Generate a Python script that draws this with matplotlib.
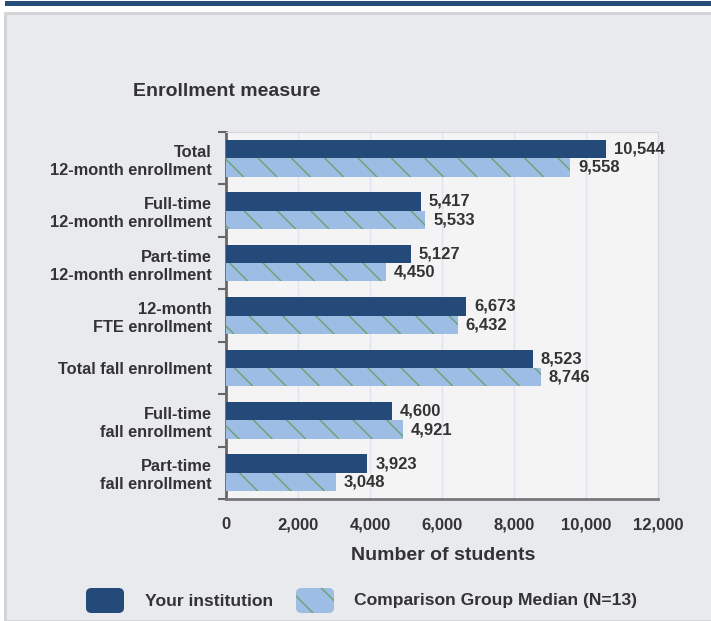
import numpy as np
import matplotlib.pyplot as plt
from matplotlib.patches import Rectangle, FancyBboxPatch

plt.rcParams['font.family'] = ['Liberation Sans', 'DejaVu Sans']
plt.rcParams['hatch.linewidth'] = 1.0

categories = ["Total\n12-month enrollment", "Full-time\n12-month enrollment",
              "Part-time\n12-month enrollment", "12-month\nFTE enrollment",
              "Total fall enrollment", "Full-time\nfall enrollment",
              "Part-time\nfall enrollment"]
your_inst = [10544, 5417, 5127, 6673, 8523, 4600, 3923]
comparison = [9558, 5533, 4450, 6432, 8746, 4921, 3048]
xticks = [0, 2000, 4000, 6000, 8000, 10000, 12000]

dark = '#244a79'
light = '#9dbde4'
hatch_col = '#6aa36c'
txt = '#333333'

W, H = 711, 621
fig = plt.figure(figsize=(W / 100, H / 100), dpi=100, facecolor='white')

# background panel and top band
fig.add_artist(Rectangle((5 / W, 0), 1, 1 - 13 / H, transform=fig.transFigure,
                         facecolor='#e9eaee', edgecolor='#d2d3d6', lw=2, zorder=0))
fig.add_artist(Rectangle((5 / W, 1 - 6 / H), 1, 5 / H, transform=fig.transFigure,
                         facecolor='#264c79', edgecolor='none', zorder=1))

ax = fig.add_axes([226 / W, 1 - 499 / H, (658 - 226) / W, (499 - 132) / H])
ax.set_facecolor('#f4f4f4')

y = np.arange(len(categories))
h = 0.35
ax.barh(y - h / 2, your_inst, height=h, color=dark, edgecolor='none', zorder=3)
ax.barh(y + h / 2, comparison, height=h, color=light, edgecolor=hatch_col,
        linewidth=0, hatch='\\', zorder=3)

for i in range(len(categories)):
    ax.text(your_inst[i] + 220, y[i] - h / 2, f"{your_inst[i]:,}", va='center',
            ha='left', fontsize=12, fontweight='bold', color=txt, zorder=4)
    ax.text(comparison[i] + 220, y[i] + h / 2, f"{comparison[i]:,}", va='center',
            ha='left', fontsize=12, fontweight='bold', color=txt, zorder=4)

ax.set_xlim(0, 12000)
ax.set_ylim(len(categories) - 0.5, -0.5)
ax.set_xticks(xticks)
ax.set_xticklabels([f"{v:,}" for v in xticks], fontsize=12, fontweight='bold', color=txt)
ax.tick_params(axis='x', length=0, pad=13)
ax.grid(axis='x', color='#dfe4ee', lw=1, zorder=0)

ax.set_yticks(np.arange(len(categories) + 1) - 0.5)
ax.set_yticklabels([])
ax.tick_params(axis='y', which='major', length=6, width=1.5, color='#666666')
ax.set_yticks(y, minor=True)
ax.set_yticklabels(categories, minor=True, fontsize=11.8, fontweight='bold',
                   color=txt, ha='right', linespacing=1.25)
ax.tick_params(axis='y', which='minor', length=0, pad=10)

for s in ['top', 'right']:
    ax.spines[s].set_color('#d8d8d8')
ax.spines['left'].set_color('#666666')
ax.spines['left'].set_linewidth(2)
ax.spines['bottom'].set_color('#777777')
ax.spines['bottom'].set_linewidth(2)

fig.text(133 / W, 1 - 92 / H, "Enrollment measure", fontsize=14, fontweight='bold',
         color=txt, va='center', ha='left')
fig.text(443 / W, 1 - 556 / H, "Number of students", fontsize=14, fontweight='bold',
         color=txt, va='center', ha='center')

# legend
fig.add_artist(FancyBboxPatch((86 / W, 1 - 613 / H), 38 / W, 25 / H,
                              boxstyle='round,pad=0,rounding_size=0.008',
                              transform=fig.transFigure, facecolor=dark, edgecolor='none'))
fig.text(145 / W, 1 - 601 / H, "Your institution", fontsize=12.6, fontweight='bold',
         color=txt, va='center', ha='left')
fig.add_artist(FancyBboxPatch((296 / W, 1 - 613 / H), 38 / W, 25 / H,
                              boxstyle='round,pad=0,rounding_size=0.008',
                              transform=fig.transFigure, facecolor=light,
                              edgecolor=hatch_col, linewidth=0, hatch='\\'))
fig.text(354 / W, 1 - 601 / H, "Comparison Group Median (N=13)", fontsize=12.6,
         fontweight='bold', color=txt, va='center', ha='left')

fig.savefig('out.png', dpi=100, facecolor='white')
